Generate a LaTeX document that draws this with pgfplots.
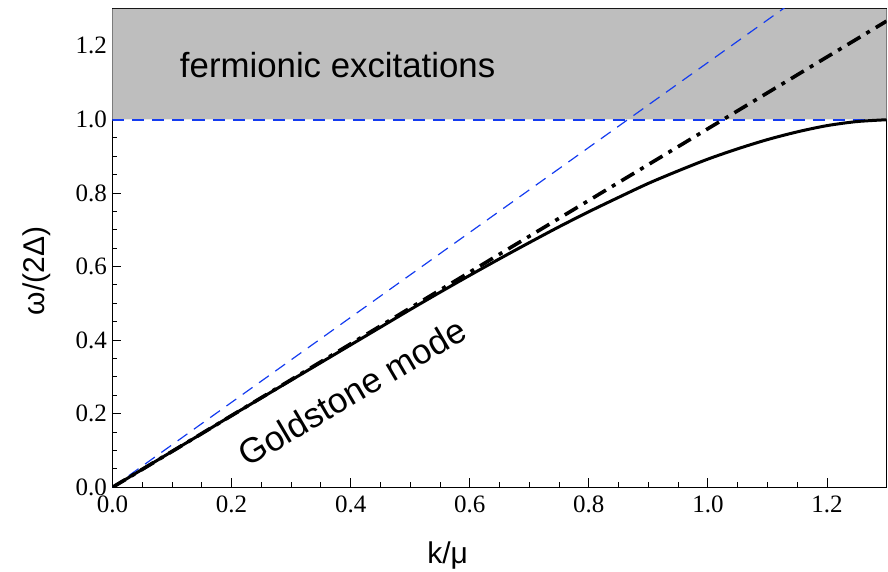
\documentclass[border=0pt]{standalone}
\usepackage{pgfplots}
\pgfplotsset{compat=1.18}
\usepackage{fontspec}
\setmainfont{Liberation Sans}
\newfontfamily\tickfont{Liberation Serif}
\definecolor{fillgray}{RGB}{190,190,190}
\definecolor{myblue}{RGB}{20,60,240}
\begin{document}
\begin{tikzpicture}
\useasboundingbox (-112.5pt,-83.7pt) rectangle (775.5pt,487.3pt);
\begin{axis}[
  at={(0pt,0pt)}, anchor=south west,
  scale only axis, width=774pt, height=478.3pt,
  xmin=0, xmax=1.3, ymin=0, ymax=1.3,
  xtick={0,0.2,...,1.21}, ytick={0,0.2,...,1.21},
  minor tick num=3,
  tick align=inside,
  xtick pos=bottom, ytick pos=left,
  major tick length=9pt, minor tick length=5pt,
  tick style={black, line width=0.9pt},
  axis line style={black, line width=1.2pt},
  /pgf/number format/assume math mode=true,
  /pgf/number format/.cd, fixed, precision=1, fixed zerofill, /pgfplots/.cd,
  ticklabel style={font=\tickfont\fontsize{25}{25}\selectfont},
  xticklabel style={yshift=-5pt},
  yticklabel style={xshift=-2pt},
  xlabel={k/μ}, ylabel={ω/(2Δ)},
  label style={font=\fontsize{30}{30}\selectfont},
  xlabel style={at={(axis description cs:0.433,-0.1583)}, anchor=base},
  ylabel style={at={(axis description cs:-0.0975,0.452)}, anchor=center},
  clip=true,
]
\addplot[fill=fillgray, draw=none] coordinates {(0,1) (1.3,1) (1.3,1.3) (0,1.3) (0,1)};
\addplot[draw=myblue, line width=2pt, dash pattern=on 12pt off 8pt] coordinates {(0,0.999) (1.3,0.999)};
\addplot[draw=myblue, line width=1.2pt, dash pattern=on 12pt off 8pt] coordinates {(0,0) (1.3,1.5011)};
\addplot[black, line width=3.6pt, dash pattern=on 15pt off 7pt on 4pt off 7pt] coordinates {(0,0) (1.3,1.267)};
\addplot[black, line width=3pt, smooth] coordinates {
(0,0) (0.05,0.0488) (0.1,0.0975) (0.15,0.146) (0.2,0.195) (0.25,0.243) (0.3,0.291)
(0.35,0.339) (0.4,0.387) (0.45,0.435) (0.5,0.483) (0.55,0.530) (0.6,0.576)
(0.65,0.621) (0.7,0.665) (0.75,0.708) (0.8,0.749) (0.85,0.788) (0.9,0.826)
(0.95,0.860) (1.0,0.892) (1.05,0.920) (1.1,0.945) (1.15,0.966) (1.2,0.983)
(1.25,0.994) (1.3,0.999)};
\node[anchor=base west, font=\fontsize{34.8}{34.8}\selectfont, inner sep=0pt] at (axis cs:0.113,1.115) {fermionic excitations};
\node[rotate=30.5, font=\fontsize{35}{35}\selectfont, inner sep=0pt] at (axis cs:0.402,0.259) {Goldstone mode};
\end{axis}
\end{tikzpicture}
\end{document}
